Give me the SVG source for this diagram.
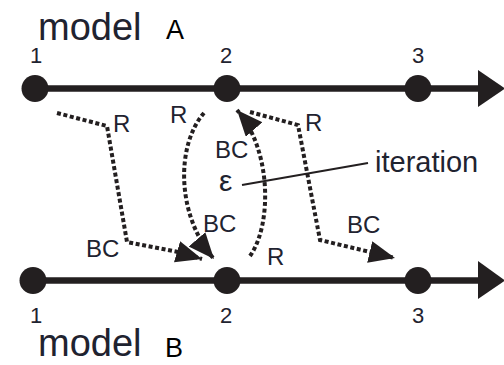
<svg xmlns="http://www.w3.org/2000/svg" width="504" height="365" viewBox="0 0 504 365">
<style>
.axis{stroke:#231f20;stroke-width:6.5;fill:none}
.node{fill:#231f20}
.head{fill:#231f20}
.conn{stroke:#231f20;stroke-width:4;stroke-dasharray:4 2.6;fill:none}
.lbl{font-family:"Liberation Sans",Arial,sans-serif;fill:#1f2330}
.num{font-size:22px;text-anchor:middle}
.tag{font-size:24px}
.title{font-size:38px}
.ab{font-family:"Liberation Sans",Arial,sans-serif;font-size:27px;fill:#000}
</style>
<defs>
<marker id="ah" markerUnits="userSpaceOnUse" markerWidth="28" markerHeight="24" refX="26" refY="11" orient="auto" viewBox="0 0 28 24">
<path d="M0,0 L26,11 L0,22 z" fill="#231f20"/>
</marker>
</defs>
<rect width="504" height="365" fill="#fff"/>

<g id="modelA">
<text class="lbl title" x="38" y="40">model</text>
<text class="ab" x="166" y="39">A</text>
<line class="axis" x1="35" y1="88.5" x2="480" y2="88.5"/>
<polygon class="head" points="478,70 505,88.5 478,107"/>
<g id="A1"><circle class="node" cx="35" cy="88.5" r="13.5"/><text class="lbl num" x="36" y="63">1</text></g>
<g id="A2"><circle class="node" cx="227" cy="88.5" r="13.5"/><text class="lbl num" x="226" y="63">2</text></g>
<g id="A3"><circle class="node" cx="418" cy="88.5" r="13.5"/><text class="lbl num" x="418" y="63">3</text></g>
</g>

<g id="modelB">
<line class="axis" x1="33" y1="280.5" x2="480" y2="280.5"/>
<polygon class="head" points="478,261 505,280.5 478,299"/>
<g id="B1"><circle class="node" cx="33" cy="280.5" r="13.5"/><text class="lbl num" x="36" y="323">1</text></g>
<g id="B2"><circle class="node" cx="227" cy="280.5" r="13.5"/><text class="lbl num" x="226" y="323">2</text></g>
<g id="B3"><circle class="node" cx="418" cy="280.5" r="13.5"/><text class="lbl num" x="418" y="323">3</text></g>
<text class="lbl title" x="38" y="356">model</text>
<text class="ab" x="165" y="357">B</text>
</g>

<g id="connectors">
<path class="conn" d="M57,113 L107,126 L127,242 L178,252 L202,259" marker-end="url(#ah)"/>
<path class="conn" d="M204,113 C176,145 176,215 214,259" marker-end="url(#ah)"/>
<path class="conn" d="M250,256 C272,225 272,150 237,110" marker-end="url(#ah)"/>
<path class="conn" d="M250,112 L298,125 L320,240 L395,258" marker-end="url(#ah)"/>
<line x1="242" y1="185" x2="368" y2="163" stroke="#231f20" stroke-width="2"/>
</g>

<g id="labels">
<text class="lbl tag" x="113" y="132">R</text>
<text class="lbl tag" x="170" y="123">R</text>
<text class="lbl tag" x="305" y="131">R</text>
<text class="lbl tag" x="267" y="265">R</text>
<text class="lbl tag" x="215" y="158">BC</text>
<text class="lbl tag" x="203" y="232">BC</text>
<text class="lbl tag" x="86" y="257">BC</text>
<text class="lbl tag" x="347" y="233">BC</text>
<text class="lbl" x="219" y="191" font-size="30">ε</text>
<text class="lbl" x="375" y="172" font-size="29">iteration</text>
</g>
</svg>
